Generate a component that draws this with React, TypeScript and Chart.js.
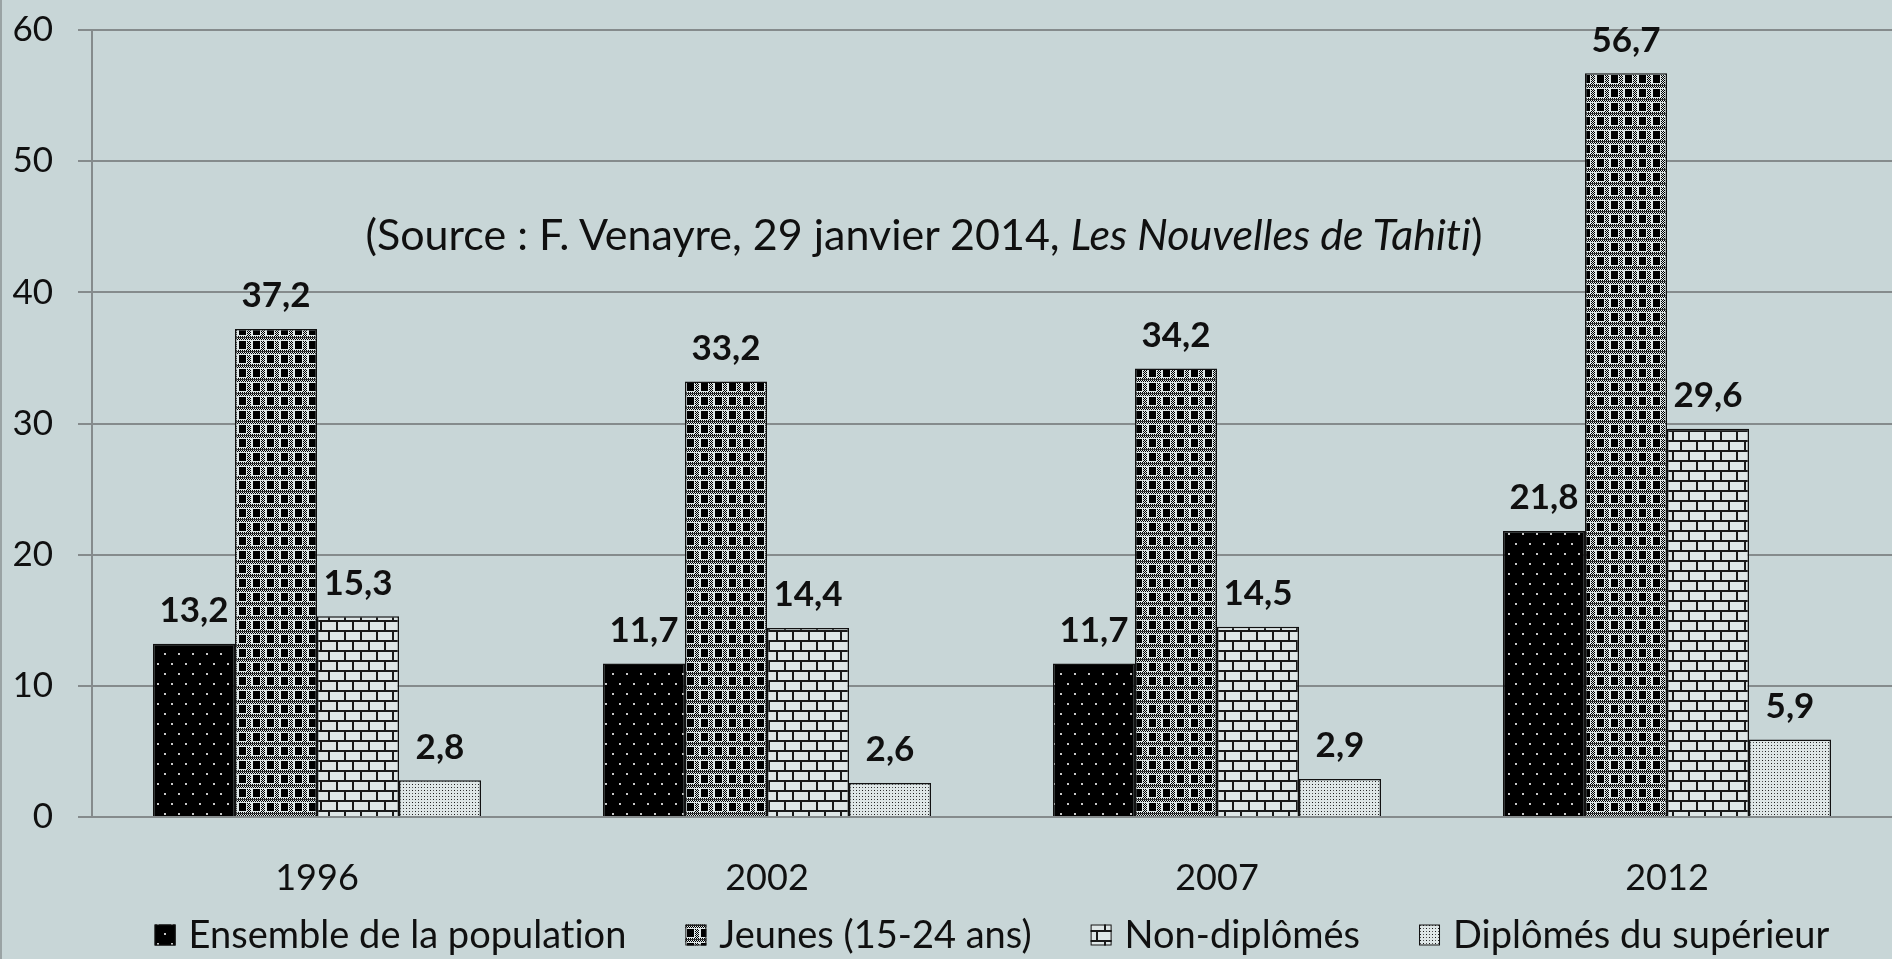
import React, { useEffect, useRef } from 'react';
import { Chart, registerables } from 'chart.js';

Chart.register(...registerables);

// ---------- data ----------
const years = ['1996', '2002', '2007', '2012'];
const seriesNames = [
  'Ensemble de la population',
  'Jeunes (15-24 ans)',
  'Non-diplômés',
  'Diplômés du supérieur',
];
const ensemble = [13.2, 11.7, 11.7, 21.8];
const jeunes = [37.2, 33.2, 34.2, 56.7];
const nonDiplomes = [15.3, 14.4, 14.5, 29.6];
const diplomes = [2.8, 2.6, 2.9, 5.9];
const yMin = 0;
const yMax = 60;
const yStep = 10;
const sourcePlain = '(Source : F. Venayre, 29 janvier 2014, ';
const sourceItalic = 'Les Nouvelles de Tahiti';
const sourceEnd = ')';

// ---------- styles ----------
const FONT = 'Lato, "Open Sans", sans-serif';
const BG = '#c8d6d7';
const GRID = '#858b8c';
const TEXT = '#101010';
const LIGHT = '#dfe7e7';

function tile(w: number, h: number, draw: (g: CanvasRenderingContext2D) => void) {
  const c = document.createElement('canvas');
  c.width = w;
  c.height = h;
  const g = c.getContext('2d')!;
  draw(g);
  return c;
}

function makePatterns(ctx: CanvasRenderingContext2D) {
  const dots = tile(14, 20, (g) => {
    g.fillStyle = '#000';
    g.fillRect(0, 0, 14, 20);
    g.fillStyle = '#c8c8c8';
    g.fillRect(3, 3, 2, 2);
    g.fillRect(10, 13, 2, 2);
  });
  const checks = tile(14, 14, (g) => {
    g.fillStyle = LIGHT;
    g.fillRect(0, 0, 14, 14);
    g.fillStyle = '#000';
    for (let y = 0; y < 4; y++) for (let x = 0; x < 14; x++) if ((x + y) % 2 === 0) g.fillRect(x, y, 1, 1);
    g.fillStyle = '#333';
    g.fillRect(0, 1, 14, 1);
    g.fillStyle = '#000';
    g.fillRect(1, 5, 7, 8);
    for (let y = 5; y < 14; y++) for (let x = 9; x < 13; x++) if ((x + y) % 2 === 0) g.fillRect(x, y, 1, 1);
  });
  const bricks = tile(16, 20, (g) => {
    g.fillStyle = LIGHT;
    g.fillRect(0, 0, 16, 20);
    g.fillStyle = '#1a1a1a';
    g.fillRect(0, 0, 16, 2);
    g.fillRect(0, 10, 16, 2);
    g.fillRect(0, 0, 2, 10);
    g.fillRect(8, 10, 2, 10);
  });
  const fine = tile(6, 6, (g) => {
    g.fillStyle = LIGHT;
    g.fillRect(0, 0, 6, 6);
    g.fillStyle = '#1a1a1a';
    g.fillRect(1, 1, 1, 1);
    g.fillRect(4, 4, 1, 1);
    g.fillStyle = '#555';
    g.fillRect(4, 1, 1, 1);
    g.fillRect(1, 4, 1, 1);
  });
  return [dots, checks, bricks, fine].map((t) => ctx.createPattern(t, 'repeat')!);
}

const fmt = (v: number) => v.toFixed(1).replace('.', ',');

function noLigatures(ctx: any) {
  try {
    ctx.textRendering = 'optimizeLegibility';
    ctx.letterSpacing = '0.01px';
  } catch (e) {
    /* ignore */
  }
}

const backgroundPlugin = {
  id: 'bgPlugin',
  beforeDraw(chart: any) {
    const { ctx, width, height } = chart;
    ctx.save();
    ctx.fillStyle = BG;
    ctx.fillRect(0, 0, width, height);
    ctx.fillStyle = '#9aa3a4';
    ctx.fillRect(0, 0, 2, height);
    ctx.restore();
  },
};

const valueLabelPlugin = {
  id: 'valueLabels',
  afterDatasetsDraw(chart: any) {
    const { ctx } = chart;
    ctx.save();
    ctx.font = `bold 35px ${FONT}`;
    ctx.fillStyle = TEXT;
    ctx.textAlign = 'center';
    ctx.textBaseline = 'middle';
    chart.data.datasets.forEach((ds: any, i: number) => {
      const meta = chart.getDatasetMeta(i);
      meta.data.forEach((el: any, j: number) => {
        ctx.fillText(fmt(ds.data[j]), el.x, el.y - 33);
      });
    });
    ctx.restore();
  },
};

const sourcePlugin = {
  id: 'sourceText',
  afterDraw(chart: any) {
    const { ctx } = chart;
    ctx.save();
    noLigatures(ctx);
    const normal = `43px ${FONT}`;
    const italic = `italic 43px ${FONT}`;
    ctx.font = normal;
    const w1 = ctx.measureText(sourcePlain).width;
    const w3 = ctx.measureText(sourceEnd).width;
    ctx.font = italic;
    const w2 = ctx.measureText(sourceItalic).width;
    const total = w1 + w2 + w3;
    let x = 924 - total / 2;
    const y = 236;
    ctx.fillStyle = TEXT;
    ctx.textBaseline = 'middle';
    ctx.textAlign = 'left';
    ctx.font = normal;
    ctx.fillText(sourcePlain, x, y);
    x += w1;
    ctx.font = italic;
    ctx.fillText(sourceItalic, x, y);
    x += w2;
    ctx.font = normal;
    ctx.fillText(sourceEnd, x, y);
    ctx.restore();
  },
};

const legendPlugin = {
  id: 'patternLegend',
  afterDraw(chart: any) {
    const { ctx, chartArea } = chart;
    ctx.save();
    noLigatures(ctx);
    ctx.font = `38px ${FONT}`;
    const box = 21;
    const boxGap = 13;
    const itemGap = 59;
    const items = chart.data.datasets.map((ds: any) => ({
      text: ds.label,
      fill: ds.backgroundColor,
      w: box + boxGap + ctx.measureText(ds.label).width,
    }));
    const total = items.reduce((s: number, it: any) => s + it.w, 0) + itemGap * (items.length - 1);
    let x = (chartArea.left + chartArea.right) / 2 - total / 2;
    const y = 935;
    items.forEach((it: any) => {
      ctx.fillStyle = it.fill;
      ctx.fillRect(x, y - box / 2, box, box);
      ctx.strokeStyle = '#111';
      ctx.lineWidth = 1;
      ctx.strokeRect(x + 0.5, y - box / 2 + 0.5, box - 1, box - 1);
      ctx.fillStyle = TEXT;
      ctx.textAlign = 'left';
      ctx.textBaseline = 'middle';
      ctx.fillText(it.text, x + box + boxGap, y + 1);
      x += it.w + itemGap;
    });
    ctx.restore();
  },
};

export default function App() {
  const ref = useRef<HTMLCanvasElement | null>(null);

  useEffect(() => {
    const canvas = ref.current!;
    const ctx = canvas.getContext('2d')!;
    const pats = makePatterns(ctx);
    const values = [ensemble, jeunes, nonDiplomes, diplomes];
    const chart = new Chart(canvas, {
      type: 'bar',
      data: {
        labels: years,
        datasets: values.map((v, i) => ({
          label: seriesNames[i],
          data: v,
          backgroundColor: pats[i] as any,
          borderColor: '#111',
          borderWidth: 1.5,
          barPercentage: 1,
          categoryPercentage: 0.729,
        })),
      },
      options: {
        animation: false,
        responsive: true,
        maintainAspectRatio: false,
        layout: { padding: { top: 30, right: 0, bottom: 0, left: 0 } },
        plugins: {
          legend: { display: false },
          title: { display: false },
          tooltip: { enabled: false },
        },
        scales: {
          x: {
            grid: { display: false },
            border: { display: false },
            ticks: { font: { family: FONT, size: 36 }, color: TEXT, padding: 32 },
            afterFit: (s: any) => {
              s.height = 142;
            },
          },
          y: {
            min: yMin,
            max: yMax,
            ticks: {
              stepSize: yStep,
              font: { family: FONT, size: 35 },
              color: TEXT,
              padding: 25,
            },
            grid: { color: GRID, lineWidth: 2, tickLength: 14 },
            border: { display: true, color: GRID, width: 2 },
            afterFit: (s: any) => {
              s.width = 92;
              s.paddingTop = 0;
              s.paddingBottom = 0;
            },
          },
        },
      },
      plugins: [backgroundPlugin, valueLabelPlugin, sourcePlugin, legendPlugin],
    });
    return () => chart.destroy();
  }, []);

  return (
    <div style={{ position: 'fixed', left: 0, top: 0, width: 1892, height: 959, background: BG }}>
      <canvas ref={ref} />
    </div>
  );
}
